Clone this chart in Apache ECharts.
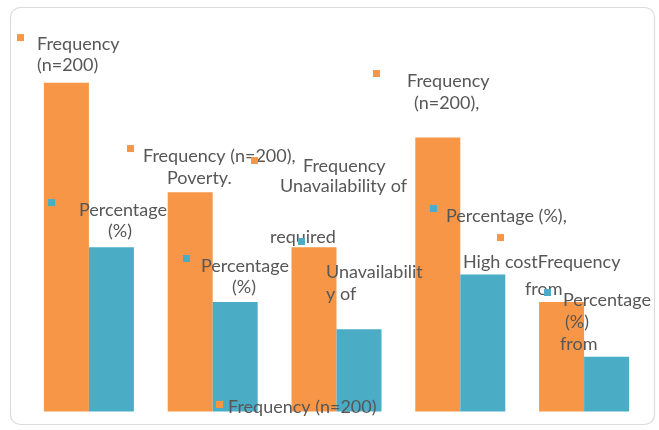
<!DOCTYPE html>
<html>
<head>
<meta charset="utf-8">
<script src="https://cdn.jsdelivr.net/npm/echarts@6.0.0/dist/echarts.min.js"></script>
<style>
  html, body { margin: 0; padding: 0; background: #fff; }
  #chart { width: 659px; height: 430px; }
</style>
</head>
<body>
<div id="chart"></div>
<script>
// ---- data ----
const categories = ['Category 1', 'Poverty', 'Unavailability of required', 'Category 4', 'High cost'];
const frequency = [60, 40, 30, 50, 20];      // Frequency (n=200)
const percentage = [30, 20, 15, 25, 10];     // Percentage (%)
const seriesNames = ['Frequency (n=200)', 'Percentage (%)'];

// data label text, one entry per line ('\t' separates independently placed pieces)
const freqLabelLines = [
  ['Frequency', '(n=200)'],
  ['Frequency (n=200),', 'Poverty.'],
  ['Frequency', 'Unavailability of', '', 'required'],
  ['Frequency', '(n=200),'],
  ['', 'High cost\tFrequency', 'from']
];
const pctLabelLines = [
  ['Percentage', '(%)'],
  ['Percentage', '(%)'],
  ['', 'Unavailabilit', 'y of'],
  ['Percentage (%),'],
  ['Percentage', '(%)', 'from']
];
const strayLabel = 'Frequency (n=200)';

// ---- styling ----
const ORANGE = '#F79646';
const BLUE = '#4BACC6';
const TEXT = '#575757';
const FONT = 'Lato';
const FONT_SIZE = 18;

// label box placement relative to the bar's top-left corner:
// dx/dy offset, key = legend-key indent on the first line,
// lines = [indent, lineHeight, indent of each further piece]
const freqLabelLayout = [
  { dx: -26.9, dy: -48.7, key: 0,  lines: [[20, 21], [20, 21]] },
  { dx: -40.7, dy: -47.3, key: 0,  lines: [[16, 22], [40, 22]] },
  { dx: -40.5, dy: -90.1, key: 0,  lines: [[52, 18], [29, 22], [0, 29], [19, 22]] },
  { dx: -42.3, dy: -67.5, key: 0,  lines: [[34, 22], [41, 22]] },
  { dx: -76.1, dy: -67.9, key: 34, lines: [[0, 13], [0, 31, [64]], [62, 22]] }
];
const pctLabelLayout = [
  { dx: -40.9, dy: -48.1, key: 0, lines: [[31, 22], [60, 20]] },
  { dx: -29.7, dy: -46.9, key: 0, lines: [[18, 22], [49, 20]] },
  { dx: -38.5, dy: -91.3, key: 0, lines: [[0, 23], [28, 22], [28, 22]] },
  { dx: -30.3, dy: -69.5, key: 0, lines: [[16, 22]] },
  { dx: -40.1, dy: -67.7, key: 0, lines: [[19, 22], [21, 22], [16, 22]] }
];

// rough text width, used to place the pieces of a split line
const measureCtx = document.createElement('canvas').getContext('2d');
function textWidth(t) {
  measureCtx.font = FONT_SIZE + 'px ' + FONT;
  return measureCtx.measureText(t).width;
}

// builds a rich-text label: small colour key on the first line, then indented lines
function buildLabel(lines, layout, color) {
  const rich = {};
  const spacer = (w, h) => {
    const name = 'w' + Math.round(w) + '_' + h;
    rich[name] = { width: Math.round(w), lineHeight: h };
    return '{' + name + '|}';
  };
  const parts = lines.map((txt, i) => {
    const [indent, h, extra] = layout.lines[i];
    let s = '';
    let x = 0;
    if (i === 0) {
      if (layout.key > 0) { s += spacer(layout.key, h); x = layout.key; }
      const kn = 'key' + h;
      rich[kn] = { width: 7, height: 7, backgroundColor: color, verticalAlign: 'top', lineHeight: h };
      s += '{' + kn + '|}';
      x += 7;
    }
    const pieces = txt ? txt.split('\t') : [];
    const starts = [indent].concat(extra || []);
    const tn = 't' + h;
    rich[tn] = { fontFamily: FONT, fontSize: FONT_SIZE, color: TEXT, lineHeight: h };
    pieces.forEach((p, k) => {
      if (starts[k] - x > 0) { s += spacer(starts[k] - x, h); x = starts[k]; }
      s += '{' + tn + '|' + p + '}';
      x += textWidth(p);
    });
    if (!s) { s += spacer(1, h); }
    return s;
  });
  return { text: parts.join('\n'), rich };
}

function barData(values, labelLines, layouts, color) {
  return values.map((v, i) => {
    const lab = buildLabel(labelLines[i], layouts[i], color);
    return {
      value: v,
      label: {
        show: true,
        position: [layouts[i].dx, layouts[i].dy],
        align: 'left',
        verticalAlign: 'top',
        formatter: () => lab.text,
        rich: lab.rich
      }
    };
  });
}

const chart = echarts.init(document.getElementById('chart'), null, { renderer: 'canvas' });

chart.setOption({
  animation: false,
  backgroundColor: '#ffffff',
  grid: { left: 27, right: 13, top: 28, bottom: 18.5 },
  xAxis: {
    type: 'category',
    data: categories,
    show: false
  },
  yAxis: {
    type: 'value',
    min: 0,
    max: 70,
    show: false
  },
  series: [
    {
      name: seriesNames[0],
      type: 'bar',
      barWidth: 45,
      barGap: '0%',
      itemStyle: { color: ORANGE },
      emphasis: { disabled: true },
      data: barData(frequency, freqLabelLines, freqLabelLayout, ORANGE)
    },
    {
      name: seriesNames[1],
      type: 'bar',
      barWidth: 45,
      barGap: '0%',
      itemStyle: { color: BLUE },
      emphasis: { disabled: true },
      data: barData(percentage, pctLabelLines, pctLabelLayout, BLUE)
    }
  ],
  graphic: [
    {
      type: 'rect',
      z: -10,
      silent: true,
      shape: { x: 10.5, y: 7.5, width: 644, height: 417, r: 10 },
      style: { fill: '#ffffff', stroke: '#dcdcdc', lineWidth: 1.2 }
    },
    {
      type: 'rect',
      z: 100,
      silent: true,
      shape: { x: 216, y: 401, width: 7, height: 7 },
      style: { fill: ORANGE }
    },
    {
      type: 'text',
      z: 100,
      silent: true,
      x: 228,
      y: 398,
      style: { text: strayLabel, font: FONT_SIZE + 'px ' + FONT, fill: TEXT }
    }
  ]
});
</script>
</body>
</html>
